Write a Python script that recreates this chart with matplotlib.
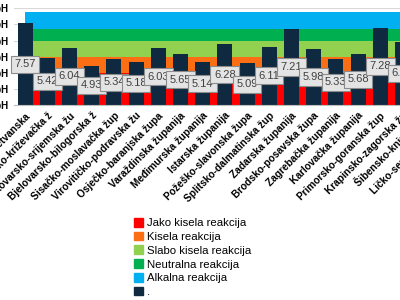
import matplotlib
matplotlib.use("Agg")
import matplotlib.pyplot as plt
from matplotlib.patches import Patch
import numpy as np

plt.rcParams['font.family'] = ['Liberation Sans', 'DejaVu Sans']

# counties as they appear on the category axis (labels are cut in the original)
counties = ["Dubrovačko-neretvanska", "Koprivničko-križevačka ž", "Vukovarsko-srijemska žu",
            "Bjelovarsko-bilogorska ž", "Sisačko-moslavačka žup", "Virovitičko-podravska žu",
            "Osječko-baranjska župa", "Varaždinska županija", "Međimurska županija",
            "Istarska županija", "Požeško-slavonska župa", "Splitsko-dalmatinska žup",
            "Zadarska županija", "Brodsko-posavska župa", "Zagrebačka županija",
            "Karlovačka županija", "Primorsko-goranska žup", "Krapinsko-zagorska žu",
            "Šibensko-kninska žu", "Ličko-senjska županija"]
ph_values = [7.57, 5.42, 6.04, 4.93, 5.34, 5.18, 6.03, 5.65, 5.14, 6.28,
             5.09, 6.11, 7.21, 5.98, 5.33, 5.68, 7.28, 6.41, 6.9, 5.6]

band_names = ["Jako kisela reakcija", "Kisela reakcija", "Slabo kisela reakcija",
              "Neutralna reakcija", "Alkalna reakcija"]
band_tops = [4.5, 5.5, 6.5, 7.2, 8.3]
band_colors = ["#FF0000", "#FB6E14", "#92D050", "#00B050", "#00B0F0"]
bar_color = "#0F2A40"

yticks = [2.5, 3.5, 4.5, 5.5, 6.5, 7.5, 8.5]

fig = plt.figure(figsize=(4, 3), dpi=100)
# the plot area runs past the right edge of the picture, like the cropped original
ax = fig.add_axes([14 / 400, 1 - 105 / 300, 444 / 400, 96.7 / 300])

x = np.arange(len(counties))
ax.set_xlim(-0.5, len(counties) - 0.5)
ax.set_ylim(yticks[0], yticks[-1])

lo = 0.0
for name, top, col in zip(band_names, band_tops, band_colors):
    ax.fill_between(x, lo, top, color=col, lw=0, zorder=1)
    lo = top

ax.bar(x, ph_values, width=0.68, color=bar_color, zorder=2)

for xi, v in zip(x, ph_values):
    ax.text(xi, (yticks[0] + v) / 2, f"{v:.2f}", ha='center', va='center',
            fontsize=8, color='#404040', zorder=3,
            bbox=dict(boxstyle='square,pad=0.32', fc='#E4E4E4', ec='#8C8C8C', lw=0.8))

ax.set_yticks(yticks, [f"{t} pH".replace('.', ',') for t in yticks],
              fontsize=7, fontweight='bold')
ax.set_xticks(x, counties, rotation=45, ha='right', va='top',
              rotation_mode='anchor', fontsize=7.3, fontweight='bold')
ax.tick_params(axis='both', length=0)
ax.tick_params(axis='y', pad=4.5)
ax.tick_params(axis='x', pad=4)

ax.yaxis.grid(True, color='#D9D9D9', lw=0.8, zorder=0)
ax.set_axisbelow(True)
for s in ['top', 'right', 'left']:
    ax.spines[s].set_visible(False)
ax.spines['bottom'].set_color('#BFBFBF')
ax.spines['bottom'].set_linewidth(0.8)

handles = [Patch(color=c, label=n) for n, c in zip(band_names, band_colors)]
handles.append(Patch(color=bar_color, label='.'))
fig.legend(handles=handles, loc='upper left', bbox_to_anchor=(134 / 400, 1 - 218 / 300),
           frameon=False, fontsize=8.2, handlelength=0.8, handleheight=0.8,
           handletextpad=0.3, labelspacing=0.3, borderaxespad=0, borderpad=0)

fig.savefig("out.png", dpi=100)
